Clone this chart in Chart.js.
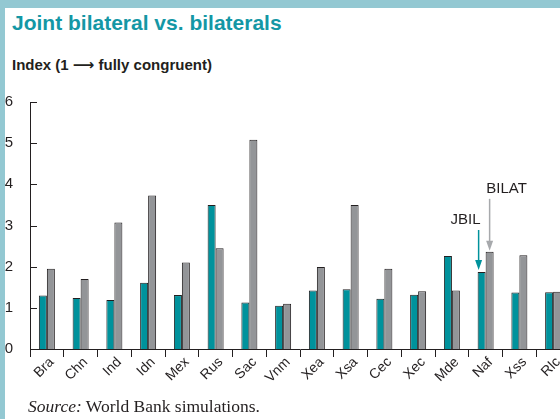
<!DOCTYPE html>
<html>
<head>
<meta charset="utf-8">
<script src="https://cdn.jsdelivr.net/npm/chart.js@4.4.0/dist/chart.umd.min.js"></script>
<style>
    html, body { margin: 0; padding: 0; background: #fff; overflow: hidden; }
    body { width: 560px; height: 419px; position: relative; }
    .band-top { position: absolute; left: 0; top: 0; width: 560px; height: 8px; background: #93c8d2; }
    .band-left { position: absolute; left: 0; top: 0; width: 5px; height: 419px; background: #93c8d2; }
    .title { position: absolute; left: 12px; top: 12px; font: bold 21px "Liberation Sans", Arial, sans-serif; line-height: 21px; color: #1497a5; }
    .subtitle { position: absolute; left: 12px; top: 56px; font: bold 15px "Liberation Sans", Arial, sans-serif; line-height: 15px; color: #231f20; }
    .subtitle .arr { font: bold 15px "DejaVu Sans", sans-serif; }
    .source { position: absolute; left: 28px; top: 397px; font: 17.5px "Liberation Serif", "Times New Roman", serif; line-height: 18px; color: #231f20; }
    #myChart { position: absolute; left: 0; top: 0; }
</style>
</head>
<body>
<div class="band-top"></div>
<div class="band-left"></div>
<div class="title">Joint bilateral vs. bilaterals</div>
<div class="subtitle">Index (1 <span class="arr">&#10230;</span> fully congruent)</div>
<canvas id="myChart" width="580" height="419"></canvas>
<div class="source"><i>Source:</i> World Bank simulations.</div>

<script>
    const countries = ['Bra', 'Chn', 'Ind', 'Idn', 'Mex', 'Rus', 'Sac', 'Vnm', 'Xea', 'Xsa', 'Cec', 'Xec', 'Mde', 'Naf', 'Xss', 'Rlc'];
    const jbil = [1.30, 1.24, 1.19, 1.61, 1.31, 3.50, 1.13, 1.05, 1.42, 1.45, 1.22, 1.32, 2.26, 1.87, 1.37, 1.38];
    const bilat = [1.95, 1.70, 3.07, 3.73, 2.10, 2.45, 5.08, 1.10, 1.99, 3.50, 1.95, 1.40, 1.42, 2.36, 2.28, 1.39];
    const yTicks = [0, 1, 2, 3, 4, 5, 6];
    const labelAt = 'Naf';

    const ink = '#231f20';
    const teal = '#00929c';
    const grey = '#939598';

    // y ticks point into the plot, so draw them by hand
    const innerTicks = {
        id: 'innerTicks',
        afterDraw(chart) {
            const c = chart.ctx;
            const y = chart.scales.y;
            const left = chart.chartArea.left;
            c.save();
            c.strokeStyle = ink;
            c.lineWidth = 1;
            yTicks.forEach(v => {
                const py = Math.round(y.getPixelForValue(v)) + 0.5;
                c.beginPath();
                c.moveTo(left, py);
                c.lineTo(left + 7, py);
                c.stroke();
            });
            c.restore();
        }
    };

    function arrow(c, x, y0, y1, color) {
        c.strokeStyle = color;
        c.fillStyle = color;
        c.lineWidth = 1.5;
        c.beginPath();
        c.moveTo(x, y0);
        c.lineTo(x, y1 - 8);
        c.stroke();
        c.beginPath();
        c.moveTo(x - 3.5, y1 - 10);
        c.lineTo(x + 3.5, y1 - 10);
        c.lineTo(x, y1);
        c.closePath();
        c.fill();
    }

    // JBIL / BILAT callouts over one country
    const callouts = {
        id: 'callouts',
        afterDraw(chart) {
            const c = chart.ctx;
            const i = countries.indexOf(labelAt);
            const a = chart.getDatasetMeta(0).data[i];
            const b = chart.getDatasetMeta(1).data[i];
            c.save();
            c.font = '15px "Liberation Sans", Arial, sans-serif';
            c.fillStyle = ink;
            c.textAlign = 'center';
            c.textBaseline = 'alphabetic';
            c.fillText('JBIL', a.x - 16, a.y - 48);
            c.fillText('BILAT', b.x + 17, b.y - 59);
            arrow(c, a.x - 3, a.y - 42, a.y - 2, teal);
            arrow(c, b.x, b.y - 53, b.y - 1, '#a7a9ac');
            c.restore();
        }
    };

    const ctx = document.getElementById('myChart').getContext('2d');
    const myChart = new Chart(ctx, {
        type: 'bar',
        data: {
            labels: countries,
            datasets: [{
                label: 'JBIL',
                data: jbil,
                backgroundColor: teal,
                borderColor: ink,
                borderWidth: 1,
                categoryPercentage: 0.474,
                barPercentage: 1
            }, {
                label: 'BILAT',
                data: bilat,
                backgroundColor: grey,
                borderColor: ink,
                borderWidth: 1,
                categoryPercentage: 0.474,
                barPercentage: 1
            }]
        },
        options: {
            responsive: false,
            animation: false,
            layout: {
                padding: { top: 102, right: 10, bottom: 0, left: 0 }
            },
            plugins: {
                legend: { display: false },
                tooltip: { enabled: false }
            },
            scales: {
                x: {
                    offset: true,
                    grid: {
                        offset: true,
                        drawOnChartArea: false,
                        drawTicks: true,
                        tickLength: 8,
                        color: ink
                    },
                    border: { display: true, color: ink, width: 1 },
                    ticks: {
                        autoSkip: false,
                        minRotation: 45,
                        maxRotation: 45,
                        padding: -3,
                        labelOffset: 5,
                        color: ink,
                        font: { family: '"Liberation Sans", Arial, sans-serif', size: 14 }
                    },
                    afterFit(scale) { scale.height = 70; }
                },
                y: {
                    min: 0,
                    max: 6,
                    grid: { display: false },
                    border: { display: true, color: ink, width: 1 },
                    ticks: {
                        stepSize: 1,
                        padding: 9,
                        color: ink,
                        font: { family: '"Liberation Sans", Arial, sans-serif', size: 15 }
                    },
                    afterFit(scale) { scale.width = 30; }
                }
            }
        },
        plugins: [innerTicks, callouts]
    });
</script>
</body>
</html>
